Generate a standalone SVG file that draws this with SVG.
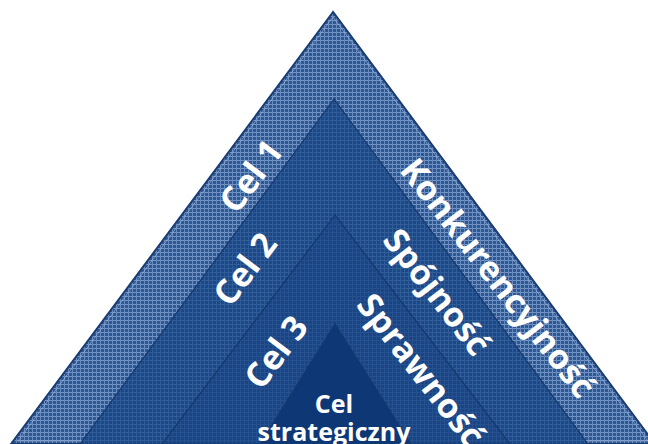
<svg xmlns="http://www.w3.org/2000/svg" width="648" height="444" viewBox="0 0 648 444">
  <defs>
    <pattern id="gridOuter" width="4" height="4" patternUnits="userSpaceOnUse">
      <rect width="4" height="4" fill="#2c5894"/>
      <rect width="4" height="1" fill="#7594c4"/>
      <rect width="1" height="4" fill="#6a8bbd"/>
    </pattern>
    <pattern id="gridMid" width="4" height="4" patternUnits="userSpaceOnUse">
      <rect width="4" height="4" fill="#1d4887"/>
      <rect width="4" height="1" fill="#305c98"/>
      <rect width="1" height="4" fill="#305c98"/>
    </pattern>
    <pattern id="gridIn" width="4" height="4" patternUnits="userSpaceOnUse">
      <rect width="4" height="4" fill="#1a4483"/>
      <rect width="4" height="1" fill="#26518f"/>
      <rect width="1" height="4" fill="#26518f"/>
    </pattern>
  </defs>
  <style>
    .lbl { font-family: "Open Sans", "Liberation Sans", sans-serif; font-weight: bold; fill: #ffffff; text-anchor: middle; }
    .band { font-size: 34px; }
    .core { font-size: 25px; }
    .edge { stroke: #15386d; stroke-width: 1.2; }
  </style>
  <rect width="648" height="444" fill="#ffffff"/>

  <g id="level1">
    <polygon points="333,12 11,444 655,444" fill="url(#gridOuter)" stroke="#1a3c72" stroke-width="2"/>
    <polygon points="333,17 18,441 648,441" fill="none" stroke="#a9bddc" stroke-width="1" opacity="0.6"/>
    <text class="lbl band" transform="translate(251,176) rotate(-53)" y="12">Cel 1</text>
    <text class="lbl band" transform="translate(498,278) rotate(52)" y="12">Konkurencyjność</text>
  </g>

  <g id="level2">
    <polygon points="334,99 80,444 588,444" fill="url(#gridMid)" class="edge"/>
    <text class="lbl band" transform="translate(245,269) rotate(-53)" y="12">Cel 2</text>
    <text class="lbl band" transform="translate(437,292) rotate(52)" y="12">Spójność</text>
  </g>

  <g id="level3">
    <polygon points="335,215 162,444 510,444" fill="url(#gridIn)" class="edge"/>
    <text class="lbl band" transform="translate(276,352) rotate(-53)" y="12">Cel 3</text>
    <text class="lbl band" transform="translate(421,370) rotate(52)" y="12">Sprawność</text>
  </g>

  <g id="core">
    <polygon points="335,324 260,444 411,444" fill="#0e3875" class="edge"/>
    <text class="lbl core" x="334" y="413">Cel</text>
    <text class="lbl core" x="334" y="441">strategiczny</text>
  </g>
</svg>
